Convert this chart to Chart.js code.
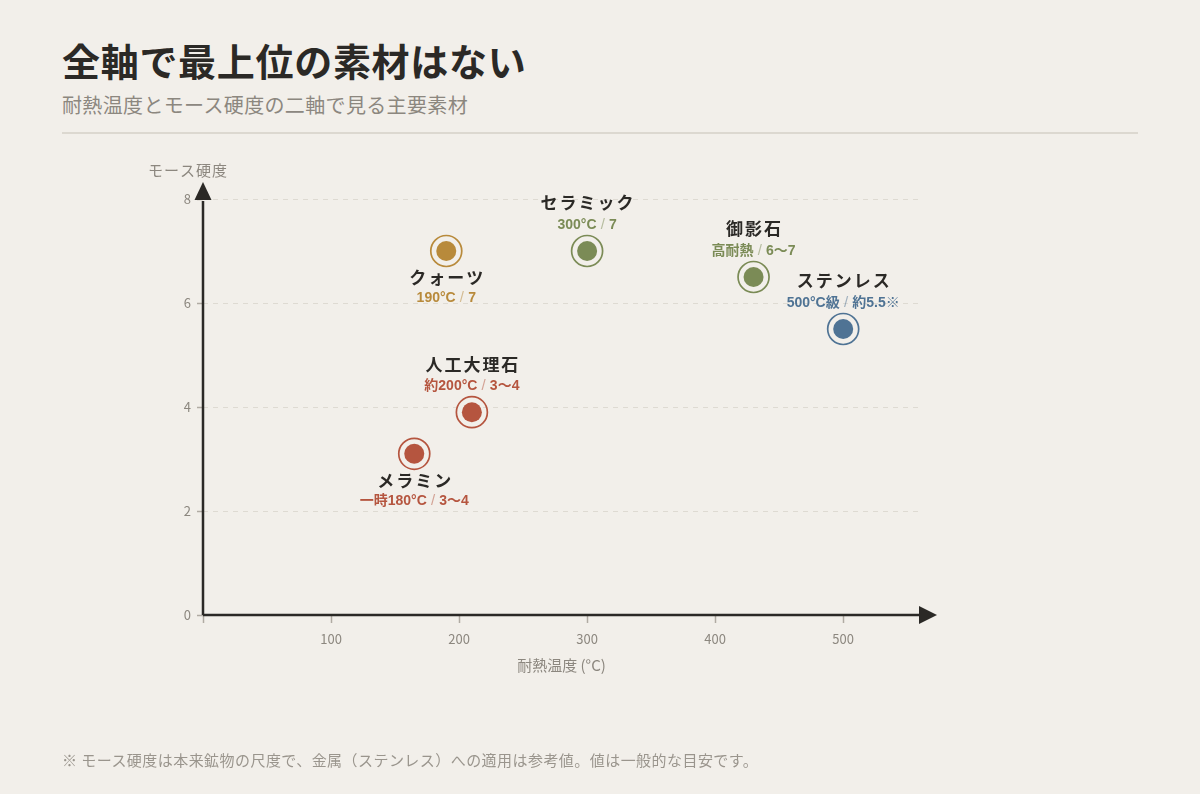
<!DOCTYPE html>
<html lang="ja">
<head>
<meta charset="utf-8">
<script src="https://cdn.jsdelivr.net/npm/chart.js@4"></script>
<style>
  html, body { margin: 0; padding: 0; }
  body { width: 1200px; height: 794px; background: #f2efea; position: relative; overflow: hidden;
         font-family: "Noto Sans CJK JP", sans-serif; }
  .title { position: absolute; left: 62px; top: 37px; font-size: 38px; font-weight: 700; color: #2b2926; letter-spacing: 0.7px; line-height: 1.2; }
  .subtitle { position: absolute; left: 62px; top: 93px; font-size: 20px; color: #8c877f; letter-spacing: 0.35px; line-height: 1.2; }
  .rule { position: absolute; left: 62px; top: 132px; width: 1076px; height: 2px; background: #dcd8d0; }
  .note { position: absolute; left: 62px; top: 750px; font-size: 15px; color: #9a958d; letter-spacing: 0.45px; line-height: 1.3; }
  #wrap { position: absolute; left: 0; top: 0; width: 1200px; height: 794px; }
</style>
</head>
<body>
<div class="title">全軸で最上位の素材はない</div>
<div class="subtitle">耐熱温度とモース硬度の二軸で見る主要素材</div>
<div class="rule"></div>
<div id="wrap"><canvas id="chart" width="1200" height="794"></canvas></div>
<div class="note">※ モース硬度は本来鉱物の尺度で、金属（ステンレス）への適用は参考値。値は一般的な目安です。</div>

<script>
// データ
const names = ['クォーツ', 'セラミック', '御影石', 'ステンレス', '人工大理石', 'メラミン'];
const temps = [190, 300, 430, 500, 210, 165];
const hardness = [7, 7, 6.5, 5.5, 3.9, 3.1];
const notes = ['190°C / 7', '300°C / 7', '高耐熱 / 6〜7', '500°C級 / 約5.5※', '約200°C / 3〜4', '一時180°C / 3〜4'];
const colors = ['#b88a3b', '#7b8b56', '#7b8b56', '#4f7394', '#b5553f', '#b5553f'];
const place = ['below', 'above', 'above', 'above', 'above', 'below'];
const xTicks = [100, 200, 300, 400, 500];
const yTicks = [0, 2, 4, 6, 8];

const ink = '#2b2926';
const grey = '#8c877f';

const points = temps.map((t, i) => ({ x: t, y: hardness[i] }));

// 軸と矢印
const axisArrows = {
  id: 'axisArrows',
  beforeDatasetsDraw(chart) {
    const { ctx, chartArea: a } = chart;
    ctx.save();
    ctx.strokeStyle = ink;
    ctx.fillStyle = ink;
    ctx.lineWidth = 2.5;
    ctx.beginPath();
    ctx.moveTo(a.left, a.bottom);
    ctx.lineTo(a.left, a.top + 2);
    ctx.moveTo(a.left, a.bottom);
    ctx.lineTo(a.right, a.bottom);
    ctx.stroke();
    // 上向き矢印
    ctx.beginPath();
    ctx.moveTo(a.left, a.top - 17);
    ctx.lineTo(a.left - 8.5, a.top + 1);
    ctx.lineTo(a.left + 8.5, a.top + 1);
    ctx.closePath();
    ctx.fill();
    // 右向き矢印
    ctx.beginPath();
    ctx.moveTo(a.right + 17, a.bottom);
    ctx.lineTo(a.right - 1, a.bottom - 9);
    ctx.lineTo(a.right - 1, a.bottom + 9);
    ctx.closePath();
    ctx.fill();
    // y軸タイトル
    ctx.font = '15px "Noto Sans CJK JP"';
    ctx.fillStyle = grey;
    ctx.letterSpacing = '1px';
    ctx.textAlign = 'center';
    ctx.textBaseline = 'middle';
    ctx.fillText('モース硬度', a.left - 15, a.top - 29);
    ctx.restore();
  }
};

// ラベル
const pointLabels = {
  id: 'pointLabels',
  afterDatasetsDraw(chart) {
    const { ctx, scales } = chart;
    ctx.save();
    ctx.textBaseline = 'middle';
    points.forEach((p, i) => {
      const px = scales.x.getPixelForValue(p.x);
      const py = scales.y.getPixelForValue(p.y);
      const nameY = place[i] === 'above' ? py - 48 : py + 27;
      const noteY = place[i] === 'above' ? py - 26 : py + 47;

      ctx.font = 'bold 17px "Noto Sans CJK JP"';
      ctx.letterSpacing = '2px';
      ctx.fillStyle = ink;
      ctx.textAlign = 'center';
      ctx.fillText(names[i], px + 1, nameY);

      // 注記 (スラッシュは薄く)
      ctx.letterSpacing = '0px';
      const parts = notes[i].split(' / ');
      const boldFont = 'bold 14px "Liberation Sans", "Noto Sans CJK JP"';
      const slashFont = '15px "Liberation Sans", "Noto Sans CJK JP"';
      ctx.font = boldFont;
      const w0 = ctx.measureText(parts[0]).width;
      const w2 = ctx.measureText(parts[1]).width;
      ctx.font = slashFont;
      const w1 = ctx.measureText(' / ').width;
      let x = px - (w0 + w1 + w2) / 2;
      ctx.textAlign = 'left';
      ctx.fillStyle = colors[i];
      ctx.font = boldFont;
      ctx.fillText(parts[0], x, noteY);
      x += w0;
      ctx.font = slashFont;
      ctx.globalAlpha = 0.5;
      ctx.fillText(' / ', x, noteY);
      ctx.globalAlpha = 1;
      x += w1;
      ctx.font = boldFont;
      ctx.fillText(parts[1], x, noteY);
    });
    ctx.restore();
  }
};

new Chart(document.getElementById('chart'), {
  type: 'scatter',
  data: {
    datasets: [
      {
        data: points,
        pointRadius: 15.5,
        pointHoverRadius: 15.5,
        pointBackgroundColor: 'rgba(0,0,0,0)',
        pointBorderColor: colors,
        pointBorderWidth: 1.7
      },
      {
        data: points,
        pointRadius: 10,
        pointHoverRadius: 10,
        pointBackgroundColor: colors,
        pointBorderWidth: 0
      }
    ]
  },
  options: {
    responsive: false,
    animation: false,
    events: [],
    layout: { padding: { left: 150, right: 280, top: 199, bottom: 794 - 615 - 62 } },
    plugins: { legend: { display: false }, tooltip: { enabled: false } },
    scales: {
      x: {
        type: 'linear',
        min: 0,
        max: 560,
        afterFit: s => { s.height = 62; },
        afterBuildTicks: s => { s.ticks = [0].concat(xTicks).map(v => ({ value: v })); },
        ticks: {
          padding: 8,
          color: grey,
          font: { family: 'Noto Sans CJK JP', size: 13 },
          callback: v => (v === 0 ? '' : v)
        },
        grid: { drawOnChartArea: false, drawTicks: true, tickLength: 8, tickColor: '#b0aba3', tickWidth: 1.5 },
        border: { display: false },
        title: {
          display: true,
          text: '耐熱温度 (°C)',
          color: grey,
          font: { family: 'Noto Sans CJK JP', size: 15 },
          padding: { top: 0, bottom: 3 }
        }
      },
      y: {
        type: 'linear',
        min: 0,
        max: 8,
        afterFit: s => { s.width = 53; },
        afterBuildTicks: s => { s.ticks = yTicks.map(v => ({ value: v })); },
        ticks: {
          padding: 6,
          color: grey,
          font: { family: 'Noto Sans CJK JP', size: 13 }
        },
        grid: {
          color: c => (c.tick && c.tick.value === 0 ? 'rgba(0,0,0,0)' : '#dedad2'),
          lineWidth: 1,
          tickLength: 6,
          tickColor: '#b0aba3',
          tickWidth: 1.5,
          tickBorderDash: []
        },
        border: { display: false, dash: [5, 5] }
      }
    }
  },
  plugins: [axisArrows, pointLabels]
});
</script>
</body>
</html>
